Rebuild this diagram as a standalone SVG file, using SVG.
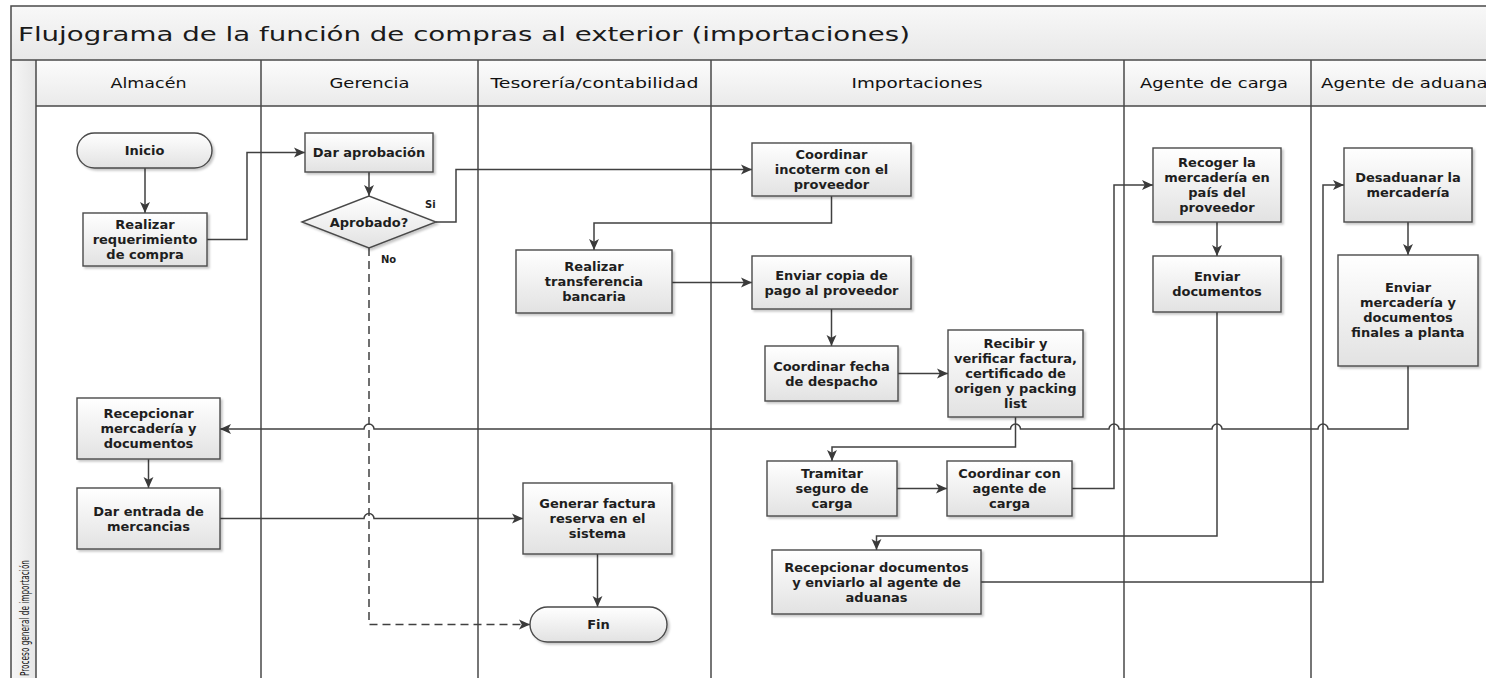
<svg xmlns="http://www.w3.org/2000/svg" width="1486" height="678" viewBox="0 0 1486 678">
  <style>
    .frame { fill: none; stroke: #4a4a4a; stroke-width: 1.5; }
    .node { fill: url(#nodeFill); stroke: #4a4a4a; stroke-width: 1.4; filter: url(#shadow); }
    .lbl { font-family: "DejaVu Sans", "Liberation Sans", sans-serif; font-weight: bold; font-size: 13px; fill: #1e1e1e; text-anchor: middle; }
    .small { font-family: "DejaVu Sans", "Liberation Sans", sans-serif; font-weight: bold; font-size: 10px; fill: #1e1e1e; }
    .head { font-family: "DejaVu Sans", "Liberation Sans", sans-serif; font-size: 14.5px; fill: #111; text-anchor: middle; }
    .title { font-family: "DejaVu Sans", "Liberation Sans", sans-serif; font-size: 20px; fill: #1a1a1a; }
    .pool { font-family: "DejaVu Sans", "Liberation Sans", sans-serif; font-size: 13px; fill: #111; }
    .conn { fill: none; stroke: #404040; stroke-width: 1.5; marker-end: url(#arr); }
    .dash { stroke-dasharray: 8 5; }
  </style>
  <defs>
    <linearGradient id="nodeFill" x1="0" y1="0" x2="0" y2="1">
      <stop offset="0" stop-color="#ffffff"/>
      <stop offset="1" stop-color="#e2e2e2"/>
    </linearGradient>
    <linearGradient id="bandFill" x1="0" y1="0" x2="0" y2="1">
      <stop offset="0" stop-color="#f8f8f8"/>
      <stop offset="1" stop-color="#e8e8e8"/>
    </linearGradient>
    <linearGradient id="headFill" x1="0" y1="0" x2="0" y2="1">
      <stop offset="0" stop-color="#fcfcfc"/>
      <stop offset="1" stop-color="#eaeaea"/>
    </linearGradient>
    <linearGradient id="poolFill" x1="0" y1="0" x2="1" y2="0">
      <stop offset="0" stop-color="#f6f6f6"/>
      <stop offset="1" stop-color="#e6e6e6"/>
    </linearGradient>
    <filter id="shadow" x="-10%" y="-10%" width="125%" height="130%">
      <feDropShadow dx="2" dy="2" stdDeviation="1" flood-color="#000" flood-opacity="0.22"/>
    </filter>
    <marker id="arr" viewBox="0 0 10 10" refX="10" refY="5" markerWidth="11" markerHeight="11" markerUnits="userSpaceOnUse" orient="auto">
      <path d="M0,0.5 L10,5 L0,9.5 L2.5,5 Z" fill="#3a3a3a"/>
    </marker>
  </defs>

  <rect width="1486" height="678" fill="#ffffff"/>

  <!-- pool frame, title band and lane headers -->
  <g id="pool">
    <rect x="11" y="6" width="1490" height="54" fill="url(#bandFill)"/>
    <rect x="36" y="60" width="1460" height="46" fill="url(#headFill)"/>
    <rect x="11" y="60" width="25" height="630" fill="url(#poolFill)"/>
    <path class="frame" d="M1496,6 H11 V690 M11,60 H1496 M36,106 H1496 M36,60 V690 M261,60 V690 M478,60 V690 M711,60 V690 M1124,60 V690 M1311,60 V690"/>
    <text class="title" x="18" y="41" textLength="892" lengthAdjust="spacingAndGlyphs">Flujograma de la función de compras al exterior (importaciones)</text>
    <text class="pool" transform="translate(29,676) rotate(-90)" x="0" y="0" textLength="116" lengthAdjust="spacingAndGlyphs">Proceso general de importación</text>
    <text class="head" x="148.5" y="88" textLength="76" lengthAdjust="spacingAndGlyphs">Almacén</text>
    <text class="head" x="369.5" y="88" textLength="80" lengthAdjust="spacingAndGlyphs">Gerencia</text>
    <text class="head" x="594.5" y="88" textLength="208" lengthAdjust="spacingAndGlyphs">Tesorería/contabilidad</text>
    <text class="head" x="917" y="88" textLength="131" lengthAdjust="spacingAndGlyphs">Importaciones</text>
    <text class="head" x="1214" y="88" textLength="148" lengthAdjust="spacingAndGlyphs">Agente de carga</text>
    <text class="head" x="1321" y="88" style="text-anchor:start" textLength="176" lengthAdjust="spacingAndGlyphs">Agente de aduanas</text>
  </g>

  <!-- connectors (hops drawn where a line passes over another) -->
  <g id="connectors">
    <path class="conn" d="M145,168 V213"/>
    <path class="conn" d="M207,239.5 H247 V152.5 H305"/>
    <path class="conn" d="M369,172 V196"/>
    <path class="conn" d="M436,222 H456 V169.5 H752"/>
    <path class="conn dash" d="M369,248 V624.5 H530"/>
    <path class="conn" d="M831.5,196 V223 H594 V250"/>
    <path class="conn" d="M672,282.5 H752"/>
    <path class="conn" d="M831.5,309 V346"/>
    <path class="conn" d="M898,373.5 H948"/>
    <path class="conn" d="M1015.5,417 V447 H832 V461"/>
    <path class="conn" d="M897,488.5 H947"/>
    <path class="conn" d="M1072,488.5 H1114 V185 H1153"/>
    <path class="conn" d="M1217,222 V256"/>
    <path class="conn" d="M1217,312 V536 H876.5 V550"/>
    <path class="conn" d="M981,582 H1323 V185 H1344"/>
    <path class="conn" d="M1408,222 V255"/>
    <path class="conn" d="M1408,366 V429 H1328 A5,5 0 0 0 1318,429 H1222 A5,5 0 0 0 1212,429 H1119 A5,5 0 0 0 1109,429 H1020.5 A5,5 0 0 0 1010.5,429 H374 A5,5 0 0 0 364,429 H220"/>
    <path class="conn" d="M148.5,459 V488"/>
    <path class="conn" d="M220,518.5 H364 A5,5 0 0 1 374,518.5 H523"/>
    <path class="conn" d="M597.5,554 V607"/>
    <text class="small" x="425" y="208">Si</text>
    <text class="small" x="381" y="263">No</text>
  </g>

  <!-- Almacén -->
  <g id="inicio">
    <rect class="node" x="77" y="133" width="135" height="35" rx="17.5"/>
    <text class="lbl" x="144.5" y="155">Inicio</text>
  </g>
  <g id="realizar-requerimiento">
    <rect class="node" x="83" y="213" width="124" height="53"/>
    <text class="lbl" x="145" y="228.5">Realizar</text>
    <text class="lbl" x="145" y="243.5">requerimiento</text>
    <text class="lbl" x="145" y="258.5">de compra</text>
  </g>
  <g id="recepcionar-mercaderia">
    <rect class="node" x="77" y="398" width="143" height="61"/>
    <text class="lbl" x="148.5" y="418">Recepcionar</text>
    <text class="lbl" x="148.5" y="433">mercadería y</text>
    <text class="lbl" x="148.5" y="448">documentos</text>
  </g>
  <g id="dar-entrada">
    <rect class="node" x="77" y="488" width="143" height="61"/>
    <text class="lbl" x="148.5" y="515.5">Dar entrada de</text>
    <text class="lbl" x="148.5" y="530.5">mercancias</text>
  </g>

  <!-- Gerencia -->
  <g id="dar-aprobacion">
    <rect class="node" x="305" y="133" width="128" height="39"/>
    <text class="lbl" x="369" y="157">Dar aprobación</text>
  </g>
  <g id="aprobado">
    <polygon class="node" points="302,222 369,196 436,222 369,248"/>
    <text class="lbl" x="369" y="226.5">Aprobado?</text>
  </g>

  <!-- Tesorería/contabilidad -->
  <g id="transferencia">
    <rect class="node" x="516" y="250" width="156" height="63"/>
    <text class="lbl" x="594" y="271">Realizar</text>
    <text class="lbl" x="594" y="286">transferencia</text>
    <text class="lbl" x="594" y="301">bancaria</text>
  </g>
  <g id="generar-factura">
    <rect class="node" x="523" y="483" width="149" height="71"/>
    <text class="lbl" x="597.5" y="508">Generar factura</text>
    <text class="lbl" x="597.5" y="523">reserva en el</text>
    <text class="lbl" x="597.5" y="538">sistema</text>
  </g>
  <g id="fin">
    <rect class="node" x="530" y="607" width="137" height="35" rx="17.5"/>
    <text class="lbl" x="598.5" y="629">Fin</text>
  </g>

  <!-- Importaciones -->
  <g id="coordinar-incoterm">
    <rect class="node" x="752" y="143" width="159" height="53"/>
    <text class="lbl" x="831.5" y="159">Coordinar</text>
    <text class="lbl" x="831.5" y="174">incoterm con el</text>
    <text class="lbl" x="831.5" y="189">proveedor</text>
  </g>
  <g id="enviar-copia">
    <rect class="node" x="752" y="256" width="159" height="53"/>
    <text class="lbl" x="831.5" y="279.5">Enviar copia de</text>
    <text class="lbl" x="831.5" y="294.5">pago al proveedor</text>
  </g>
  <g id="coordinar-fecha">
    <rect class="node" x="765" y="346" width="133" height="55"/>
    <text class="lbl" x="831.5" y="370.5">Coordinar fecha</text>
    <text class="lbl" x="831.5" y="385.5">de despacho</text>
  </g>
  <g id="recibir-factura">
    <rect class="node" x="948" y="330" width="135" height="87"/>
    <text class="lbl" x="1015.5" y="348">Recibir y</text>
    <text class="lbl" x="1015.5" y="363">verificar factura,</text>
    <text class="lbl" x="1015.5" y="378">certificado de</text>
    <text class="lbl" x="1015.5" y="393">origen y packing</text>
    <text class="lbl" x="1015.5" y="408">list</text>
  </g>
  <g id="tramitar-seguro">
    <rect class="node" x="767" y="461" width="130" height="55"/>
    <text class="lbl" x="832" y="478">Tramitar</text>
    <text class="lbl" x="832" y="493">seguro de</text>
    <text class="lbl" x="832" y="508">carga</text>
  </g>
  <g id="coordinar-agente">
    <rect class="node" x="947" y="461" width="125" height="55"/>
    <text class="lbl" x="1009.5" y="478">Coordinar con</text>
    <text class="lbl" x="1009.5" y="493">agente de</text>
    <text class="lbl" x="1009.5" y="508">carga</text>
  </g>
  <g id="recepcionar-documentos">
    <rect class="node" x="772" y="550" width="209" height="64"/>
    <text class="lbl" x="876.5" y="571.5">Recepcionar documentos</text>
    <text class="lbl" x="876.5" y="586.5">y enviarlo al agente de</text>
    <text class="lbl" x="876.5" y="601.5">aduanas</text>
  </g>

  <!-- Agente de carga -->
  <g id="recoger-mercaderia">
    <rect class="node" x="1153" y="148" width="128" height="74"/>
    <text class="lbl" x="1217" y="167">Recoger la</text>
    <text class="lbl" x="1217" y="182">mercadería en</text>
    <text class="lbl" x="1217" y="197">país del</text>
    <text class="lbl" x="1217" y="212">proveedor</text>
  </g>
  <g id="enviar-documentos">
    <rect class="node" x="1153" y="256" width="128" height="56"/>
    <text class="lbl" x="1217" y="281">Enviar</text>
    <text class="lbl" x="1217" y="296">documentos</text>
  </g>

  <!-- Agente de aduanas -->
  <g id="desaduanar">
    <rect class="node" x="1344" y="148" width="128" height="74"/>
    <text class="lbl" x="1408" y="182">Desaduanar la</text>
    <text class="lbl" x="1408" y="197">mercadería</text>
  </g>
  <g id="enviar-planta">
    <rect class="node" x="1338" y="255" width="140" height="111"/>
    <text class="lbl" x="1408" y="292">Enviar</text>
    <text class="lbl" x="1408" y="307">mercadería y</text>
    <text class="lbl" x="1408" y="322">documentos</text>
    <text class="lbl" x="1408" y="337">finales a planta</text>
  </g>
</svg>
